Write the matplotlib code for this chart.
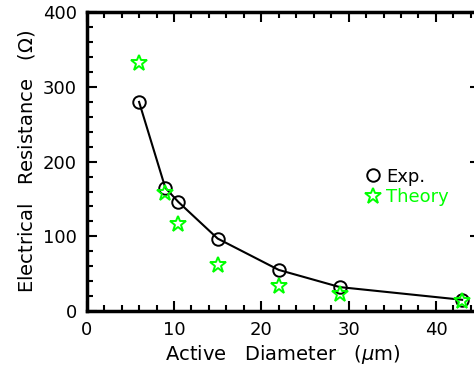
import numpy as np
import matplotlib.pyplot as plt
from matplotlib.ticker import MultipleLocator

# Active diameter (um) and measured / computed resistance (Ohm)
diameter = [6, 9, 10.5, 15, 22, 29, 43]
r_exp = [280, 165, 146, 97, 55, 32, 15]
r_theory = [332, 158, 116, 62, 33, 23, 14]

fig = plt.figure(figsize=(4.74, 3.66), dpi=100)
# axes runs a little past the right edge of the canvas
ax = fig.add_axes([86.7 / 474, 1 - 311 / 366, (479.6 - 86.7) / 474, (311 - 12.3) / 366])

ax.plot(diameter, r_exp, '-', color='black', linewidth=1.5, zorder=2)
ax.plot(diameter, r_exp, 'o', linestyle='none', markersize=9,
        markerfacecolor='none', markeredgecolor='black', markeredgewidth=1.4,
        label='Exp.', zorder=3)
ax.plot(diameter, r_theory, '*', linestyle='none', markersize=12,
        markerfacecolor='none', markeredgecolor='#00ff00', markeredgewidth=1.4,
        label='Theory', zorder=4)

ax.set_xlim(0, 45)
ax.set_ylim(0, 400)
ax.xaxis.set_major_locator(MultipleLocator(10))
ax.xaxis.set_minor_locator(MultipleLocator(2))
ax.yaxis.set_major_locator(MultipleLocator(100))
ax.yaxis.set_minor_locator(MultipleLocator(20))
ax.tick_params(which='both', direction='in', top=True, right=True,
               width=1.5, labelsize=13, pad=7)
ax.tick_params(which='major', length=7)
ax.tick_params(which='minor', length=4)
for s in ax.spines.values():
    s.set_linewidth(2.5)

ax.set_xlabel('Active   Diameter   ($\\mu$m)', fontsize=14, labelpad=3)
ax.set_ylabel('Electrical   Resistance   ($\\Omega$)', fontsize=14, labelpad=4)

ax.legend(loc='upper left', bbox_to_anchor=(0.688, 0.51), frameon=False,
          fontsize=13, handlelength=0.8, handletextpad=0.3, labelspacing=0.15,
          borderpad=0, labelcolor='markeredgecolor')

fig.savefig('out.png', dpi=100)
